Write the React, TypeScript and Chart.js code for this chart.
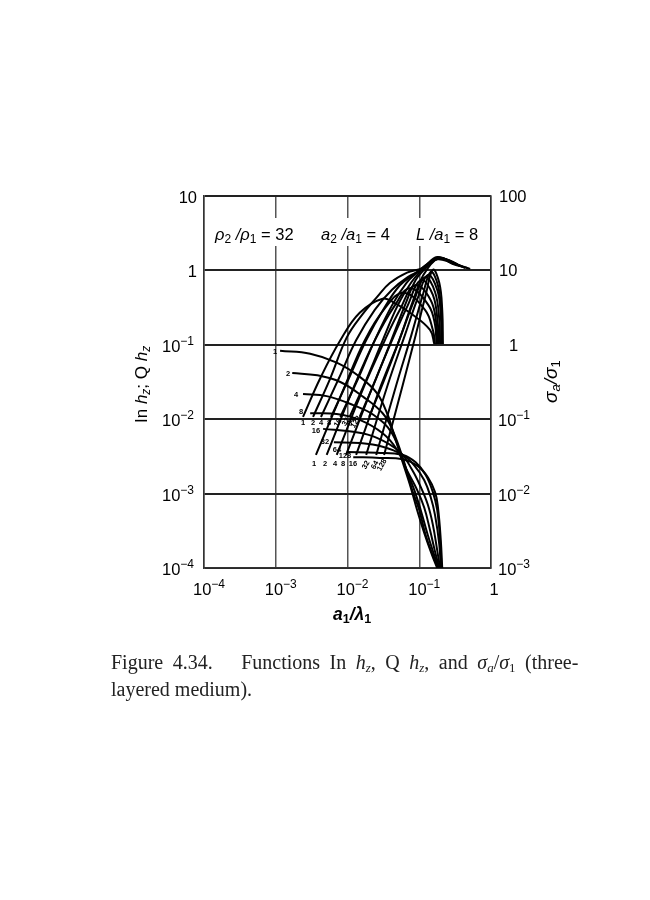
import React, { useEffect, useRef } from "react";
import { Chart, registerables } from "chart.js";

Chart.register(...registerables);

// Every curve is a list of [log10(a1/lambda1), log10(ln hz; Q hz)] pairs.
const falling1 = [[-2.94,-1.08],[-2.52,-1.12],[-2.15,-1.24],[-1.83,-1.43],[-1.59,-1.65],[-1.44,-1.94],[-1.37,-2.15],[-1.24,-2.55],[-1.13,-2.88],[-1.03,-3.22],[-0.92,-3.56],[-0.82,-3.83],[-0.75,-4]];
const falling2 = [[-2.77,-1.38],[-2.42,-1.41],[-2.1,-1.5],[-1.78,-1.7],[-1.51,-1.92],[-1.37,-2.15],[-1.21,-2.58],[-1.1,-2.95],[-1,-3.22],[-0.91,-3.56],[-0.81,-3.83],[-0.74,-4]];
const falling4 = [[-2.62,-1.66],[-2.29,-1.69],[-1.92,-1.81],[-1.64,-1.94],[-1.38,-2.19],[-1.18,-2.68],[-1.07,-2.95],[-0.98,-3.22],[-0.88,-3.56],[-0.79,-3.83],[-0.73,-4]];
const falling8 = [[-2.52,-1.92],[-2.15,-1.93],[-1.83,-2.01],[-1.51,-2.19],[-1.31,-2.41],[-1.16,-2.71],[-1.03,-2.95],[-0.93,-3.19],[-0.85,-3.49],[-0.78,-3.78],[-0.72,-4]];
const falling16 = [[-2.34,-2.13],[-1.92,-2.17],[-1.59,-2.25],[-1.27,-2.44],[-1.1,-2.68],[-0.98,-2.91],[-0.88,-3.15],[-0.81,-3.42],[-0.75,-3.76],[-0.71,-4]];
const falling32 = [[-2.19,-2.31],[-1.83,-2.32],[-1.51,-2.37],[-1.23,-2.48],[-1.07,-2.62],[-0.93,-2.82],[-0.84,-3.05],[-0.78,-3.29],[-0.72,-3.69],[-0.7,-4]];
const falling64 = [[-2.01,-2.44],[-1.59,-2.45],[-1.23,-2.48],[-1.05,-2.58],[-0.91,-2.75],[-0.81,-2.98],[-0.75,-3.22],[-0.71,-3.62],[-0.69,-4]];
const falling128 = [[-1.92,-2.51],[-1.55,-2.52],[-1.23,-2.54],[-1.02,-2.63],[-0.88,-2.78],[-0.78,-2.98],[-0.74,-3.18],[-0.7,-3.62],[-0.68,-4]];

const upper1 = [[-2.62,-1.97],[-2.38,-1.45],[-2.1,-0.94],[-1.83,-0.57],[-1.51,-0.38],[-1.34,-0.44],[-1.13,-0.57],[-0.85,-0.8],[-0.79,-0.99]];
const upper2 = [[-2.48,-1.97],[-2.24,-1.45],[-2.01,-0.9],[-1.8,-0.6],[-1.59,-0.36],[-1.41,-0.17],[-1.17,-0.03],[-0.96,0.03],[-0.75,0.18],[-0.54,0.1],[-0.29,0.02]];
const upper3 = [[-2.37,-1.97],[-2.12,-1.45],[-1.88,-0.94],[-1.62,-0.53],[-1.38,-0.26],[-1.16,-0.09],[-0.96,0.01],[-0.74,0.17],[-0.54,0.09],[-0.32,0.03]];
const upper4 = [[-2.23,-1.97],[-1.98,-1.45],[-1.74,-0.94],[-1.49,-0.51],[-1.27,-0.2],[-1.07,-0.05],[-0.92,0.05],[-0.74,0.17],[-0.54,0.11],[-0.36,0.03]];
const upper5 = [[-2.1,-1.97],[-1.85,-1.45],[-1.62,-0.94],[-1.38,-0.47],[-1.18,-0.17],[-1.02,-0.02],[-0.88,0.09],[-0.74,0.15],[-0.57,0.11],[-0.4,0.05]];
const upper6 = [[-1.97,-1.97],[-1.73,-1.45],[-1.51,-0.94],[-1.3,-0.47],[-1.11,-0.16],[-0.98,-0.01],[-0.85,0.1],[-0.74,0.17],[-0.57,0.13],[-0.43,0.06]];
const upper7 = [[-1.83,-1.97],[-1.6,-1.45],[-1.39,-0.94],[-1.2,-0.47],[-1.05,-0.13],[-0.92,0.02],[-0.82,0.11],[-0.72,0.17],[-0.59,0.13],[-0.46,0.07]];
const upper8 = [[-1.7,-1.97],[-1.48,-1.45],[-1.28,-0.94],[-1.11,-0.47],[-0.98,-0.13],[-0.88,0.03],[-0.79,0.13],[-0.71,0.17],[-0.6,0.14],[-0.49,0.09]];

const lower1 = [[-2.44,-2.48],[-2.03,-1.54],[-1.76,-0.94],[-1.48,-0.51],[-1.22,-0.3],[-0.92,-0.53],[-0.81,-0.8],[-0.78,-0.99]];
const lower2 = [[-2.29,-2.48],[-1.9,-1.54],[-1.62,-0.94],[-1.34,-0.47],[-1.13,-0.24],[-0.87,-0.47],[-0.78,-0.73],[-0.76,-0.99]];
const lower3 = [[-2.15,-2.48],[-1.76,-1.54],[-1.48,-0.94],[-1.27,-0.53],[-1.06,-0.2],[-0.84,-0.4],[-0.76,-0.73],[-0.75,-0.99]];
const lower4 = [[-2.02,-2.48],[-1.64,-1.54],[-1.38,-0.94],[-1.16,-0.47],[-0.98,-0.13],[-0.81,-0.33],[-0.74,-0.73],[-0.73,-0.99]];
const lower5 = [[-1.88,-2.48],[-1.53,-1.54],[-1.28,-0.94],[-1.07,-0.4],[-0.92,-0.09],[-0.78,-0.29],[-0.72,-0.67],[-0.71,-0.99]];
const lower6 = [[-1.74,-2.48],[-1.44,-1.54],[-1.2,-0.87],[-1.02,-0.37],[-0.88,-0.06],[-0.75,-0.26],[-0.7,-0.6],[-0.69,-0.99]];
const lower7 = [[-1.6,-2.48],[-1.32,-1.54],[-1.11,-0.87],[-0.95,-0.33],[-0.84,-0.02],[-0.74,-0.2],[-0.69,-0.6],[-0.68,-0.99]];
const lower8 = [[-1.49,-2.48],[-1.23,-1.54],[-1.05,-0.87],[-0.91,-0.33],[-0.81,0.01],[-0.72,-0.17],[-0.68,-0.53],[-0.67,-0.99]];

const allCurves = [
  falling1, falling2, falling4, falling8, falling16, falling32, falling64, falling128,
  upper1, upper2, upper3, upper4, upper5, upper6, upper7, upper8,
  lower1, lower2, lower3, lower4, lower5, lower6, lower7, lower8,
];

const xDecades = [1e-4, 1e-3, 1e-2, 1e-1, 1];
const yDecades = [1e-4, 1e-3, 1e-2, 1e-1, 1, 10];
const parameterLabels = ["1", "2", "4", "8", "16", "32", "64", "128"];

const SANS = '"Liberation Sans", Arial, sans-serif';

type Run = [string, string, number];
function runs(ctx: CanvasRenderingContext2D, x: number, y: number, list: Run[]) {
  let cx = x;
  ctx.textAlign = "left";
  ctx.textBaseline = "alphabetic";
  for (const [t, f, dy] of list) {
    ctx.font = f;
    ctx.fillText(t, cx, y + dy);
    cx += ctx.measureText(t).width;
  }
  return cx;
}

function power(ctx: CanvasRenderingContext2D, x: number, y: number, exp: string) {
  runs(ctx, x, y, [["10", `16.5px ${SANS}`, 0], [exp, `12px ${SANS}`, -7]]);
}

function small(ctx: CanvasRenderingContext2D, t: string, x: number, y: number, rot = 0) {
  ctx.save();
  ctx.translate(x, y);
  ctx.rotate(rot);
  ctx.font = `bold 7.5px ${SANS}`;
  ctx.textAlign = "center";
  ctx.textBaseline = "middle";
  ctx.fillText(t, 0, 0);
  ctx.restore();
}

const annotations = {
  id: "annotations",
  beforeDatasetsDraw(chart: any) {
    const { ctx } = chart;
    ctx.save();
    ctx.fillStyle = "#fff";
    ctx.fillRect(210, 218, 275, 28);
    ctx.restore();
  },
  afterDraw(chart: any) {
    const { ctx, scales } = chart;
    ctx.save();
    ctx.fillStyle = "#000";
    const big = `16.5px ${SANS}`;
    const sub = `12px ${SANS}`;
    const ital = `italic 16.5px ${SANS}`;

    // x tick labels
    xDecades.slice(0, 4).forEach((v, i) => {
      power(ctx, scales.x.getPixelForValue(v) - 11, 595, "−" + (4 - i));
    });
    ctx.font = big;
    ctx.textAlign = "center";
    ctx.textBaseline = "alphabetic";
    ctx.fillText("1", scales.x.getPixelForValue(1) + 3, 595);

    // left tick labels
    yDecades.forEach((v) => {
      const py = scales.y.getPixelForValue(v);
      const e = Math.round(Math.log10(v));
      if (e < 0) power(ctx, 162, py + 7, "−" + -e);
      else {
        ctx.font = big;
        ctx.textAlign = "right";
        ctx.textBaseline = "alphabetic";
        ctx.fillText(e === 0 ? "1" : "10", 197, py + 7);
      }
    });

    // right tick labels
    [100, 10, 1, 0.1, 0.01, 0.001].forEach((v) => {
      const py = scales.y2.getPixelForValue(v);
      const e = Math.round(Math.log10(v));
      if (e < 0) power(ctx, 498, py + 7, "−" + -e);
      else {
        ctx.font = big;
        ctx.textAlign = "left";
        ctx.textBaseline = "alphabetic";
        ctx.fillText(e === 0 ? "1" : e === 1 ? "10" : "100", e === 0 ? 509 : 499, py + 6);
      }
    });

    // parameter line
    runs(ctx, 215, 240, [["ρ", ital, 0], ["2", sub, 3], [" /", ital, 0], ["ρ", ital, 0], ["1", sub, 3], [" = 32", big, 0]]);
    runs(ctx, 321, 240, [["a", ital, 0], ["2", sub, 3], [" /", ital, 0], ["a", ital, 0], ["1", sub, 3], [" = 4", big, 0]]);
    runs(ctx, 416, 240, [["L", ital, 0], [" /", ital, 0], ["a", ital, 0], ["1", sub, 3], [" = 8", big, 0]]);

    // x title
    const bi = `italic bold 17.5px ${SANS}`;
    runs(ctx, 333, 620, [["a", bi, 0], ["1", `bold 12.5px ${SANS}`, 3], ["/λ", bi, 0], ["1", `bold 12.5px ${SANS}`, 3]]);

    // left title
    ctx.save();
    ctx.translate(147, 423);
    ctx.rotate(-Math.PI / 2);
    const yi = `italic 17px ${SANS}`;
    runs(ctx, 0, 0, [
      ["In ", `17px ${SANS}`, 0], ["h", yi, 0], ["z", `italic 12px ${SANS}`, 3], ["; Q", `17px ${SANS}`, 0],
      [" h", yi, 0], ["z", `italic 12px ${SANS}`, 3],
    ]);
    ctx.restore();

    // right title
    ctx.save();
    ctx.translate(557, 403);
    ctx.rotate(-Math.PI / 2);
    const ri = `italic 19px ${SANS}`;
    runs(ctx, 0, 0, [["σ", ri, 0], ["a", `italic 13px ${SANS}`, 3], ["/σ", ri, 0], ["1", `13px ${SANS}`, 3]]);
    ctx.restore();

    // curve parameters
    const startX = [275, 288, 296, 301, 316, 325, 337, 345];
    const startY = [352, 374, 395, 412, 431, 442, 450, 456];
    const rowAX = [303, 313, 321, 329, 338, 346, 351, 356];
    const rowBX = [314, 325, 335, 343, 353, 366, 375, 382];
    parameterLabels.forEach((t, i) => {
      small(ctx, t, startX[i], startY[i]);
      small(ctx, t, rowAX[i], 423 - (i > 4 ? 1 : 0), i > 3 ? -1 : 0);
      small(ctx, t, rowBX[i], 464 + (i > 4 ? 1 : 0), i > 4 ? -1.05 : 0);
    });
    ctx.restore();
  },
};

export default function App() {
  const ref = useRef<HTMLCanvasElement>(null);
  useEffect(() => {
    const chart = new Chart(ref.current!, {
      type: "line",
      data: {
        datasets: allCurves.map((c) => ({
          data: c.map(([x, y]) => ({ x: 10 ** x, y: 10 ** y })),
          borderColor: "#000",
          borderWidth: 2,
          pointRadius: 0,
          tension: 0.4,
          fill: false,
        })),
      },
      options: {
        responsive: false,
        animation: false,
        layout: { padding: { left: 204, right: 159, top: 196, bottom: 332 } },
        plugins: { legend: { display: false }, tooltip: { enabled: false } },
        scales: {
          x: {
            type: "logarithmic",
            min: 1e-4,
            max: 1,
            afterBuildTicks: (s: any) => { s.ticks = xDecades.map((value) => ({ value })); },
            ticks: { display: false },
            grid: { color: "#555", lineWidth: 1.5, drawTicks: false },
            border: { display: true, color: "#333", width: 1.5 },
          },
          y: {
            type: "logarithmic",
            min: 1e-4,
            max: 10,
            afterBuildTicks: (s: any) => { s.ticks = yDecades.map((value) => ({ value })); },
            ticks: { display: false },
            grid: { color: "#222", lineWidth: 2, drawTicks: false },
            border: { display: true, color: "#333", width: 1.5 },
          },
          y2: {
            type: "logarithmic",
            position: "right",
            min: 1e-3,
            max: 100,
            ticks: { display: false },
            grid: { display: false, drawTicks: false },
            border: { display: true, color: "#333", width: 1.5 },
          },
        },
      },
      plugins: [annotations],
    } as any);
    return () => chart.destroy();
  }, []);
  const cap: React.CSSProperties = {
    position: "absolute",
    left: 111,
    fontFamily: '"Liberation Serif", serif',
    fontSize: 20,
    color: "#222",
    whiteSpace: "nowrap",
    lineHeight: "24px",
  };
  const sub: React.CSSProperties = { fontSize: 13, verticalAlign: "-3px", lineHeight: 0 };
  return (
    <div style={{ position: "absolute", left: 0, top: 0, width: 650, height: 900, background: "#fff", overflow: "hidden" }}>
      <canvas ref={ref} width={650} height={900} style={{ position: "absolute", left: 0, top: 0 }} />
      <div style={{ ...cap, top: 650, wordSpacing: 4.5 }}>
        Figure 4.34.&nbsp;&nbsp; Functions In <i>h</i><i style={sub}>z</i>, Q <i>h</i><i style={sub}>z</i>, and <i>σ</i><i style={sub}>a</i>/<i>σ</i><span style={sub}>1</span> (three-
      </div>
      <div style={{ ...cap, top: 677 }}>layered medium).</div>
    </div>
  );
}
